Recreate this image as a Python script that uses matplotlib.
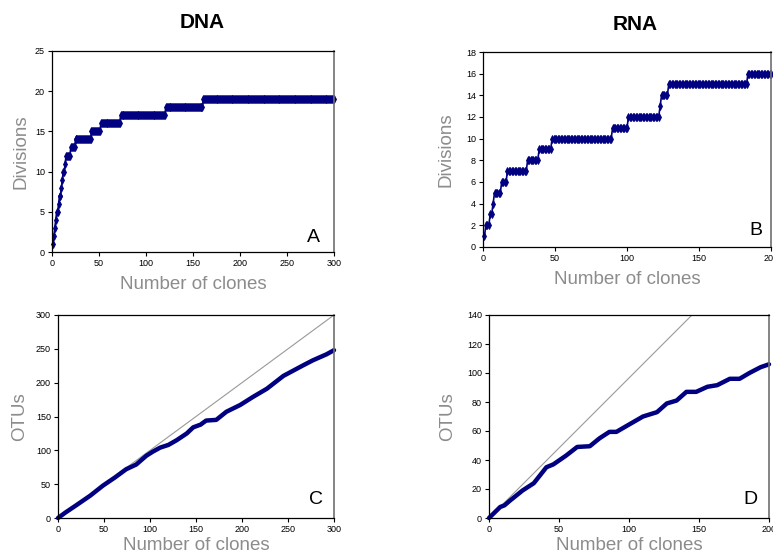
import numpy as np
import matplotlib
matplotlib.use("Agg")
import matplotlib.pyplot as plt

plt.rcParams['font.family'] = ['Liberation Sans', 'DejaVu Sans']

NAVY = '#000080'
LABEL_GREY = '#8c8c8c'

# Panel A (DNA): divisions step curve, level and clone number where it starts
dna_levels = [1, 2, 3, 4, 5, 6, 7, 8, 9, 10, 11, 12, 13, 14, 15, 16, 17, 18, 19]
dna_starts = [1, 2, 3, 4, 5, 7, 8, 10, 11, 12, 14, 15, 20, 25, 42, 52, 73, 121, 161]
dna_total = 300

# Panel B (RNA): divisions step curve
rna_levels = [1, 2, 3, 4, 5, 6, 7, 8, 9, 10, 11, 12, 13, 14, 15, 16]
rna_starts = [1, 2, 5, 7, 8, 13, 17, 31, 39, 48, 90, 101, 123, 124, 129, 184]
rna_total = 200

# Panel C (DNA): OTUs vs clones
dna_clones = [0, 8, 20, 35, 49, 62, 74, 85, 96, 103, 111, 120, 129, 140, 147,
              155, 161, 172, 183, 198, 212, 227, 245, 256, 267, 277, 292, 300]
dna_otus = [0, 8, 19, 33, 48, 60, 72, 79, 92, 98, 104, 108, 115, 125, 134,
            138, 144, 145, 157, 167, 179, 191, 210, 218, 226, 233, 242, 248]

# Panel D (RNA): OTUs vs clones
rna_clones = [0, 8, 11, 15, 24, 32, 41, 46, 55, 63, 72, 79, 86, 91, 101, 110,
              120, 127, 134, 141, 148, 156, 163, 172, 179, 186, 194, 200]
rna_otus = [0, 7.6, 8.7, 12, 19, 24, 35, 37, 43, 49, 49.5, 55, 59.4, 59.4, 65, 70,
            73, 79, 81, 87, 87, 90.5, 91.6, 96, 96, 100, 104, 106]


def expand_steps(levels, starts, total):
    ends = starts[1:] + [total + 1]
    counts = np.array(ends) - np.array(starts)
    x = np.arange(starts[0], total + 1)
    y = np.repeat(levels, counts)
    return x, y


def style_axes(ax, xmax, xstep, ymax, ystep, xpad=6):
    ax.set_xlim(0, xmax)
    ax.set_ylim(0, ymax)
    ax.set_xticks(np.arange(0, xmax + 1, xstep))
    ax.set_yticks(np.arange(0, ymax + 1, ystep))
    ax.tick_params(direction='out', length=3, width=0.8, labelsize=6.5, pad=2)
    for side in ['left', 'bottom', 'top']:
        ax.spines[side].set_color('black')
        ax.spines[side].set_linewidth(0.9)
    ax.spines['right'].set_color('#707070')
    ax.spines['right'].set_linewidth(1.2)
    ax.set_xlabel('Number of clones', fontsize=13.5, color=LABEL_GREY, labelpad=xpad)


fig = plt.figure(figsize=(7.73, 5.57), dpi=100)
W, H = 773, 557


def add_axes(left, top, right, bottom):
    return fig.add_axes([left / W, 1 - bottom / H, (right - left) / W, (bottom - top) / H])


axA = add_axes(52, 51, 334, 252)
axB = add_axes(483, 52, 771, 247)
axC = add_axes(58, 315, 334, 518)
axD = add_axes(489, 315, 769, 518)

# A
x, y = expand_steps(dna_levels, dna_starts, dna_total)
axA.plot(x, y, color=NAVY, lw=1.2, marker='d', ms=4, mew=0.6, clip_on=False)
style_axes(axA, 300, 50, 25, 5)
axA.set_ylabel('Divisions', fontsize=13.5, color=LABEL_GREY, labelpad=4)
axA.text(0.95, 0.03, 'A', transform=axA.transAxes, fontsize=14, ha='right', va='bottom')

# B
x, y = expand_steps(rna_levels, rna_starts, rna_total)
axB.plot(x, y, color=NAVY, lw=1.2, marker='d', ms=4, mew=0.6, clip_on=False)
style_axes(axB, 200, 50, 18, 2)
axB.set_ylabel('Divisions', fontsize=13.5, color=LABEL_GREY, labelpad=8)
axB.text(0.97, 0.04, 'B', transform=axB.transAxes, fontsize=14, ha='right', va='bottom')

# C
axC.plot([0, 300], [0, 300], color='#999999', lw=0.8)
axC.plot(dna_clones, dna_otus, color=NAVY, lw=3.2, solid_capstyle='round', clip_on=False)
style_axes(axC, 300, 50, 300, 50, xpad=2)
axC.set_ylabel('OTUs', fontsize=13.5, color=LABEL_GREY, labelpad=6)
axC.text(0.96, 0.05, 'C', transform=axC.transAxes, fontsize=14, ha='right', va='bottom')

# D
axD.plot([0, 145], [0, 140], color='#999999', lw=0.8)
axD.plot(rna_clones, rna_otus, color=NAVY, lw=3.2, solid_capstyle='round', clip_on=False)
style_axes(axD, 200, 50, 140, 20, xpad=2)
axD.set_ylabel('OTUs', fontsize=13.5, color=LABEL_GREY, labelpad=8)
axD.text(0.96, 0.05, 'D', transform=axD.transAxes, fontsize=14, ha='right', va='bottom')

fig.text(202 / W, 1 - 23 / H, 'DNA', fontsize=15, fontweight='bold', ha='center', va='center')
fig.text(635 / W, 1 - 25 / H, 'RNA', fontsize=15, fontweight='bold', ha='center', va='center')

fig.savefig('out.png', dpi=100, facecolor='white')
